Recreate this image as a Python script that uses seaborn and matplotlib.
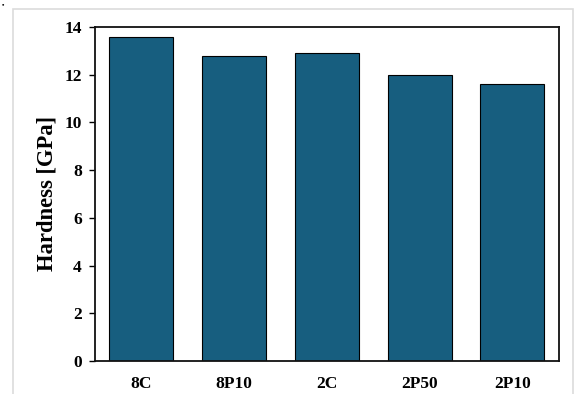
import pandas as pd
import matplotlib.pyplot as plt
import seaborn as sns
from matplotlib.patches import Rectangle

# data
samples = ["8C", "8P10", "2C", "2P50", "2P10"]
hardness = [13.6, 12.8, 12.9, 12.0, 11.6]

df = pd.DataFrame({"sample": samples, "hardness": hardness})

sns.set_style("ticks")
plt.rcParams["font.family"] = ["Liberation Serif", "DejaVu Serif"]
plt.rcParams["font.weight"] = "bold"
plt.rcParams["text.color"] = "black"
plt.rcParams["axes.labelcolor"] = "black"
plt.rcParams["xtick.color"] = "black"
plt.rcParams["ytick.color"] = "black"

fig = plt.figure(figsize=(5.74, 3.94), dpi=100)
ax = fig.add_axes([0.1655, 0.0838, 0.8078, 0.8477])

sns.barplot(data=df, x="sample", y="hardness", color="#175e7f", saturation=1,
            width=0.69, edgecolor="black", linewidth=0.8, ax=ax)

ax.set_xlim(-0.5, 4.5)
ax.set_ylim(0, 14)
ax.set_yticks(range(0, 15, 2))
ax.set_xlabel("")
ax.set_ylabel("Hardness [GPa]", fontsize=16.3, fontweight="bold", labelpad=5)
ax.tick_params(axis="y", direction="out", length=4.5, width=1, labelsize=12.5, pad=5)
ax.tick_params(axis="x", length=0, labelsize=12.5, pad=11)
for lab in ax.get_xticklabels() + ax.get_yticklabels():
    lab.set_fontweight("bold")
for sp in ax.spines.values():
    sp.set_visible(True)
    sp.set_linewidth(1.3)
    sp.set_color("#111111")

# light frame of the screenshot
fig.patches.append(Rectangle((13 / 574, -0.01), (560 / 574), (385 / 394) + 0.01,
                             transform=fig.transFigure, fill=False,
                             edgecolor="#dcdcdc", linewidth=1.2))
fig.text(3 / 574, 1 - 5 / 394, "\u2022", fontsize=5, ha="center", va="center")

fig.savefig("out.png", dpi=100)
